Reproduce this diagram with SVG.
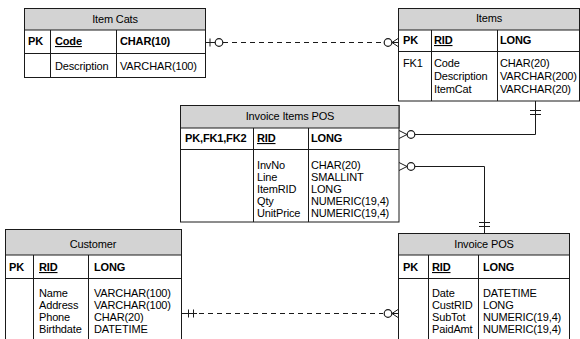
<svg xmlns="http://www.w3.org/2000/svg" width="580" height="339" viewBox="0 0 580 339">
<style>
.box{fill:#fff;stroke:#1a1a1a;stroke-width:1}
.ttl{fill:#d3d3d3;stroke:#1a1a1a;stroke-width:1}
.ln{stroke:#1a1a1a;stroke-width:1;fill:none}
.dash{stroke:#1a1a1a;stroke-width:1;fill:none;stroke-dasharray:5,4}
.c{fill:#fff;stroke:#1a1a1a;stroke-width:1.2}
text{font-family:"Liberation Sans",Arial,sans-serif;font-size:11px;fill:#000;letter-spacing:-0.15px}
.t{text-anchor:middle}
.b{font-weight:bold}
.u{text-decoration:underline;font-weight:bold}
</style>
<rect width="580" height="339" fill="#fff"/>
<g id="connectors">
  <line class="ln" x1="206" y1="42.5" x2="215" y2="42.5"/>
  <line class="ln" x1="210" y1="38.5" x2="210" y2="46.5"/>
  <line class="dash" x1="223" y1="42.5" x2="384" y2="42.5"/>
  <circle class="c" cx="219" cy="42.5" r="3.8"/>
  <circle class="c" cx="388" cy="42.5" r="3.8"/>
  <polyline class="ln" points="398,38.5 392,42.5 398,46.5"/>
  <line class="ln" x1="392" y1="42.5" x2="398" y2="42.5"/>
  <polyline class="ln" points="415,134.5 535.5,134.5 535.5,101"/>
  <line class="ln" x1="530" y1="110.5" x2="541" y2="110.5"/>
  <line class="ln" x1="530" y1="114.5" x2="541" y2="114.5"/>
  <polyline class="ln" points="399,130.5 407,134.5 399,138.5"/>
  <circle class="c" cx="411" cy="134.5" r="3.8"/>
  <polyline class="ln" points="415,166.5 484.5,166.5 484.5,233"/>
  <line class="ln" x1="479" y1="222.5" x2="490" y2="222.5"/>
  <line class="ln" x1="479" y1="226.5" x2="490" y2="226.5"/>
  <polyline class="ln" points="399,162.5 407,166.5 399,170.5"/>
  <circle class="c" cx="411" cy="166.5" r="3.8"/>
  <line class="ln" x1="181" y1="313.5" x2="197" y2="313.5"/>
  <line class="ln" x1="188.5" y1="309.5" x2="188.5" y2="317.5"/>
  <line class="ln" x1="193.5" y1="309.5" x2="193.5" y2="317.5"/>
  <line class="dash" x1="199" y1="313.5" x2="383" y2="313.5"/>
  <circle class="c" cx="388" cy="313.5" r="3.8"/>
  <polyline class="ln" points="398,309.5 392,313.5 398,317.5"/>
  <line class="ln" x1="392" y1="313.5" x2="398" y2="313.5"/>
</g>
<g id="itemcats">
  <rect class="box" x="24.5" y="8.5" width="181" height="69"/>
  <rect class="ttl" x="24.5" y="8.5" width="181" height="21.5"/>
  <line class="ln" x1="24.5" y1="53.5" x2="205.5" y2="53.5"/>
  <line class="ln" x1="50.5" y1="30" x2="50.5" y2="77.5"/>
  <line class="ln" x1="116.5" y1="30" x2="116.5" y2="77.5"/>
  <text class="t" x="115" y="23">Item Cats</text>
  <text class="b" x="28" y="45">PK</text>
  <text class="u" x="55" y="45">Code</text>
  <text class="b" x="120" y="45">CHAR(10)</text>
  <text x="55" y="70">Description</text>
  <text x="120" y="70">VARCHAR(100)</text>
</g>
<g id="items">
  <rect class="box" x="398.5" y="8.5" width="181" height="92.5"/>
  <rect class="ttl" x="398.5" y="8.5" width="181" height="21.5"/>
  <line class="ln" x1="398.5" y1="51.5" x2="579.5" y2="51.5"/>
  <line class="ln" x1="431.5" y1="30" x2="431.5" y2="101"/>
  <line class="ln" x1="497.5" y1="30" x2="497.5" y2="101"/>
  <text class="t" x="489" y="22">Items</text>
  <text class="b" x="403" y="44">PK</text>
  <text class="u" x="434" y="44">RID</text>
  <text class="b" x="500" y="44">LONG</text>
  <text x="403" y="67">FK1</text>
  <text x="434" y="67">Code</text>
  <text x="434" y="80">Description</text>
  <text x="434" y="93">ItemCat</text>
  <text x="500" y="67">CHAR(20)</text>
  <text x="500" y="80">VARCHAR(200)</text>
  <text x="500" y="93">VARCHAR(20)</text>
</g>
<g id="invoiceitemspos">
  <rect class="box" x="180.5" y="105.5" width="218.5" height="116.5"/>
  <rect class="ttl" x="180.5" y="105.5" width="218.5" height="22.5"/>
  <line class="ln" x1="180.5" y1="149.5" x2="399" y2="149.5"/>
  <line class="ln" x1="253.5" y1="128" x2="253.5" y2="222"/>
  <line class="ln" x1="308.5" y1="128" x2="308.5" y2="222"/>
  <text class="t" x="290" y="120">Invoice Items POS</text>
  <text class="b" x="185" y="142">PK,FK1,FK2</text>
  <text class="u" x="257" y="142">RID</text>
  <text class="b" x="311" y="142">LONG</text>
  <text x="257" y="169">InvNo</text>
  <text x="257" y="181">Line</text>
  <text x="257" y="193">ItemRID</text>
  <text x="257" y="205">Qty</text>
  <text x="257" y="217">UnitPrice</text>
  <text x="311" y="169">CHAR(20)</text>
  <text x="311" y="181">SMALLINT</text>
  <text x="311" y="193">LONG</text>
  <text x="311" y="205">NUMERIC(19,4)</text>
  <text x="311" y="217">NUMERIC(19,4)</text>
</g>
<g id="customer">
  <rect class="box" x="5.5" y="229.5" width="176" height="115"/>
  <rect class="ttl" x="5.5" y="229.5" width="176" height="25.5"/>
  <line class="ln" x1="5.5" y1="278.5" x2="181.5" y2="278.5"/>
  <line class="ln" x1="33.5" y1="255" x2="33.5" y2="345"/>
  <line class="ln" x1="88.5" y1="255" x2="88.5" y2="345"/>
  <text class="t" x="93" y="248">Customer</text>
  <text class="b" x="9" y="271">PK</text>
  <text class="u" x="39" y="271">RID</text>
  <text class="b" x="94" y="271">LONG</text>
  <text x="39" y="297">Name</text>
  <text x="39" y="309">Address</text>
  <text x="39" y="321">Phone</text>
  <text x="39" y="333">Birthdate</text>
  <text x="94" y="297">VARCHAR(100)</text>
  <text x="94" y="309">VARCHAR(100)</text>
  <text x="94" y="321">CHAR(20)</text>
  <text x="94" y="333">DATETIME</text>
</g>
<g id="invoicepos">
  <rect class="box" x="398.5" y="233.5" width="171" height="111"/>
  <rect class="ttl" x="398.5" y="233.5" width="171" height="21.5"/>
  <line class="ln" x1="398.5" y1="278.5" x2="569.5" y2="278.5"/>
  <line class="ln" x1="428.5" y1="255" x2="428.5" y2="345"/>
  <line class="ln" x1="478.5" y1="255" x2="478.5" y2="345"/>
  <text class="t" x="484" y="248">Invoice POS</text>
  <text class="b" x="403" y="271">PK</text>
  <text class="u" x="432" y="271">RID</text>
  <text class="b" x="483" y="271">LONG</text>
  <text x="432" y="297">Date</text>
  <text x="432" y="309">CustRID</text>
  <text x="432" y="321">SubTot</text>
  <text x="432" y="333">PaidAmt</text>
  <text x="483" y="297">DATETIME</text>
  <text x="483" y="309">LONG</text>
  <text x="483" y="321">NUMERIC(19,4)</text>
  <text x="483" y="333">NUMERIC(19,4)</text>
</g>
</svg>
